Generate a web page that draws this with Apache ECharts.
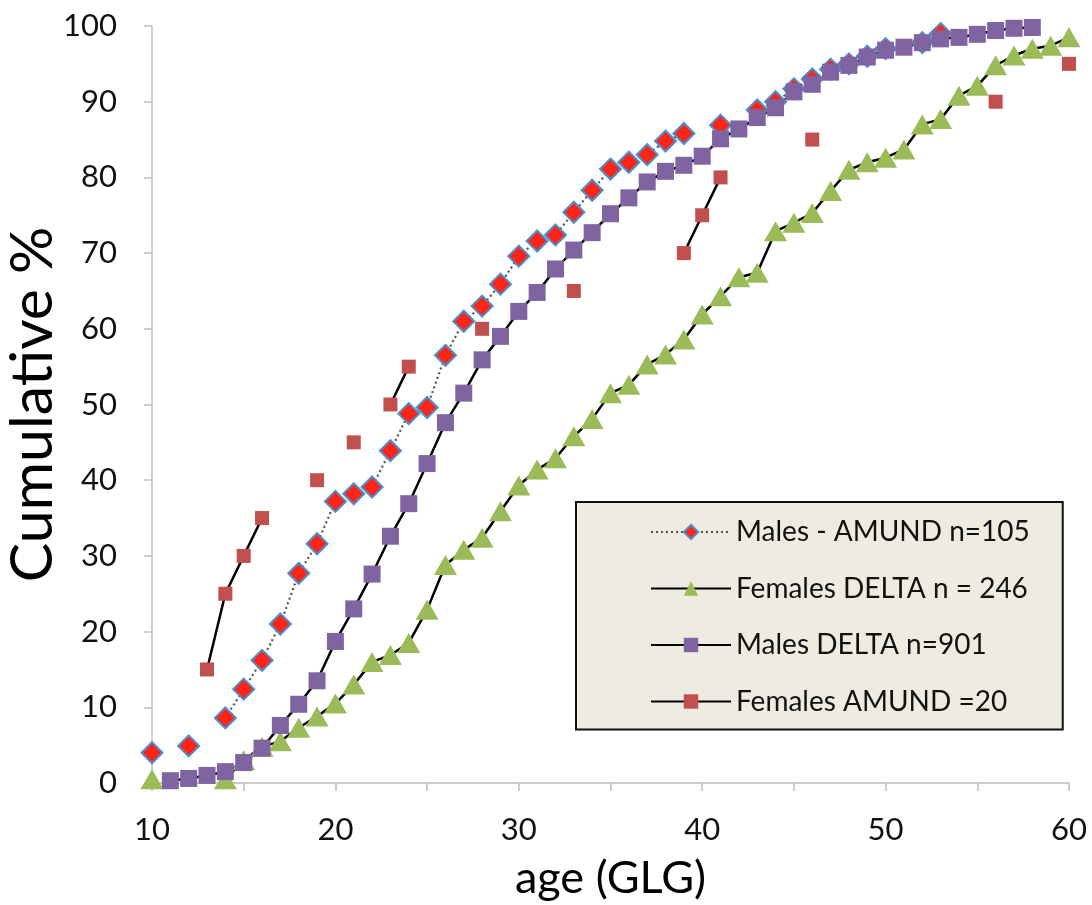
<!DOCTYPE html>
<html>
<head>
<meta charset="utf-8">
<script src="https://cdn.jsdelivr.net/npm/echarts@6/dist/echarts.min.js"></script>
<style>
  html, body { margin: 0; padding: 0; background: #ffffff; }
  #chart { width: 1092px; height: 905px; }
</style>
</head>
<body>
<div id="chart"></div>
<script>
// Age in growth layer groups (GLG)
const ages = [10, 11, 12, 13, 14, 15, 16, 17, 18, 19,
              20, 21, 22, 23, 24, 25, 26, 27, 28, 29,
              30, 31, 32, 33, 34, 35, 36, 37, 38, 39,
              40, 41, 42, 43, 44, 45, 46, 47, 48, 49,
              50, 51, 52, 53, 54, 55, 56, 57, 58, 59, 60];

// Cumulative % per age; null = no animal of that age in the sample
const malesAmund = [4.0, null, 4.9, null, 8.6, 12.4, 16.2, 21.0, 27.7, 31.6,
                    37.2, 38.2, 39.1, 43.9, 48.8, 49.6, 56.5, 61.0, 63.0, 65.9,
                    69.6, 71.6, 72.4, 75.4, 78.3, 81.1, 82.0, 83.0, 84.8, 85.8,
                    null, 86.9, null, 88.9, 90.0, 91.7, 93.0, 94.3, 95.0, 96.0,
                    97.0, null, 97.8, 99.0, null, null, null, null, null, null, null];

const femalesDelta = [0.5, null, null, null, 0.5, 3.0, 4.8, 5.5, 7.3, 8.8,
                      10.5, 13.0, 16.0, 16.9, 18.5, 22.9, 28.8, 30.8, 32.4, 35.9,
                      39.3, 41.4, 42.9, 45.8, 48.1, 51.5, 52.6, 55.3, 56.6, 58.6,
                      61.9, 64.3, 66.8, 67.4, 72.9, 74.0, 75.3, 78.2, 81.0, 82.0,
                      82.6, 83.7, 87.0, 87.7, 90.8, 92.1, 94.8, 96.1, 97.0, 97.4, 98.5];

const malesDelta = [null, 0.3, 0.6, 1.0, 1.5, 2.7, 4.6, 7.6, 10.4, 13.5,
                    18.7, 23.0, 27.6, 32.6, 36.9, 42.2, 47.6, 51.5, 55.9, 59.0,
                    62.3, 64.8, 67.9, 70.4, 72.7, 75.2, 77.3, 79.4, 80.8, 81.6,
                    82.8, 85.1, 86.4, 87.9, 89.2, 91.3, 92.3, 93.9, 94.8, 95.9,
                    96.8, 97.2, 97.8, 98.3, 98.5, 98.9, 99.4, 99.7, 99.8, null, null];

const femalesAmund = [null, null, null, 15, 25, 30, 35, null, null, 40,
                      null, 45, null, 50, 55, null, null, null, 60, null,
                      null, null, null, 65, null, null, null, null, null, 70,
                      75, 80, null, null, null, null, 85, null, null, null,
                      null, null, null, null, null, null, 90, null, null, null, 95];

const seriesNames = ['Males - AMUND n=105', 'Females DELTA n = 246', 'Males DELTA n=901', 'Females AMUND =20'];
const yTicks = { min: 0, max: 100, step: 10 };
const xTicks = { min: 10, max: 60, step: 5, labelStep: 10 };

const FONT = 'Lato, "Open Sans", sans-serif';
const pairs = vals => ages.map((a, i) => [a, vals[i] === null ? null : vals[i]]);

const chart = echarts.init(document.getElementById('chart'), null, { renderer: 'canvas' });

chart.setOption({
  animation: false,
  backgroundColor: '#ffffff',
  grid: { left: 152, right: 23, top: 26, bottom: 122, containLabel: false, outerBoundsMode: 'none' },
  xAxis: {
    type: 'value',
    min: xTicks.min, max: xTicks.max, interval: xTicks.step,
    name: 'age (GLG)', nameLocation: 'middle', nameGap: 73, nameMoveOverlap: false,
    nameTextStyle: { fontFamily: FONT, fontSize: 45, color: '#000' },
    axisLine: { show: true, onZero: false, lineStyle: { color: '#BFBFBF', width: 1.5 } },
    axisTick: { show: true, inside: false, length: 8, lineStyle: { color: '#BFBFBF', width: 1.5 } },
    axisLabel: {
      fontFamily: FONT, fontSize: 31, color: '#111', margin: 31,
      formatter: v => (v % xTicks.labelStep === 0 ? String(v) : '')
    },
    splitLine: { show: false }
  },
  yAxis: {
    type: 'value',
    min: yTicks.min, max: yTicks.max, interval: yTicks.step,
    name: 'Cumulative %', nameLocation: 'middle', nameGap: 90, nameMoveOverlap: false,
    nameTextStyle: { fontFamily: FONT, fontSize: 59, color: '#000' },
    axisLine: { show: true, lineStyle: { color: '#BFBFBF', width: 1.5 } },
    axisTick: { show: true, inside: false, length: 8, lineStyle: { color: '#BFBFBF', width: 1.5 } },
    axisLabel: { fontFamily: FONT, fontSize: 31, color: '#111', margin: 35 },
    splitLine: { show: false }
  },
  legend: {
    orient: 'vertical',
    left: 576, top: 502,
    padding: [16, 33, 14, 74],
    itemGap: 28.5,
    itemWidth: 80, itemHeight: 18,
    backgroundColor: '#EEEBE0',
    borderColor: '#111', borderWidth: 2,
    textStyle: { fontFamily: FONT, fontSize: 28, color: '#111', lineHeight: 28 },
    data: seriesNames
  },
  series: [
    {
      name: seriesNames[0], type: 'line', data: pairs(malesAmund),
      connectNulls: false, symbol: 'diamond', symbolSize: 21,
      itemStyle: { color: '#FF2418', borderColor: '#4A8FCF', borderWidth: 2 },
      lineStyle: { color: '#555555', width: 2.2, type: [2, 3] }
    },
    {
      name: seriesNames[1], type: 'line', data: pairs(femalesDelta),
      connectNulls: false, symbol: 'triangle', symbolSize: [23, 20],
      itemStyle: { color: '#9BBB59', borderColor: '#9BBB59', borderWidth: 0 },
      lineStyle: { color: '#000', width: 2.5 }
    },
    {
      name: seriesNames[2], type: 'line', data: pairs(malesDelta),
      connectNulls: false, symbol: 'rect', symbolSize: 17,
      itemStyle: { color: '#8064A2', borderWidth: 0 },
      lineStyle: { color: '#000', width: 2.5 }
    },
    {
      name: seriesNames[3], type: 'line', data: pairs(femalesAmund),
      connectNulls: false, symbol: 'rect', symbolSize: 14,
      itemStyle: { color: '#C0504D', borderWidth: 0 },
      lineStyle: { color: '#000', width: 2.5 }
    }
  ]
});
</script>
</body>
</html>
